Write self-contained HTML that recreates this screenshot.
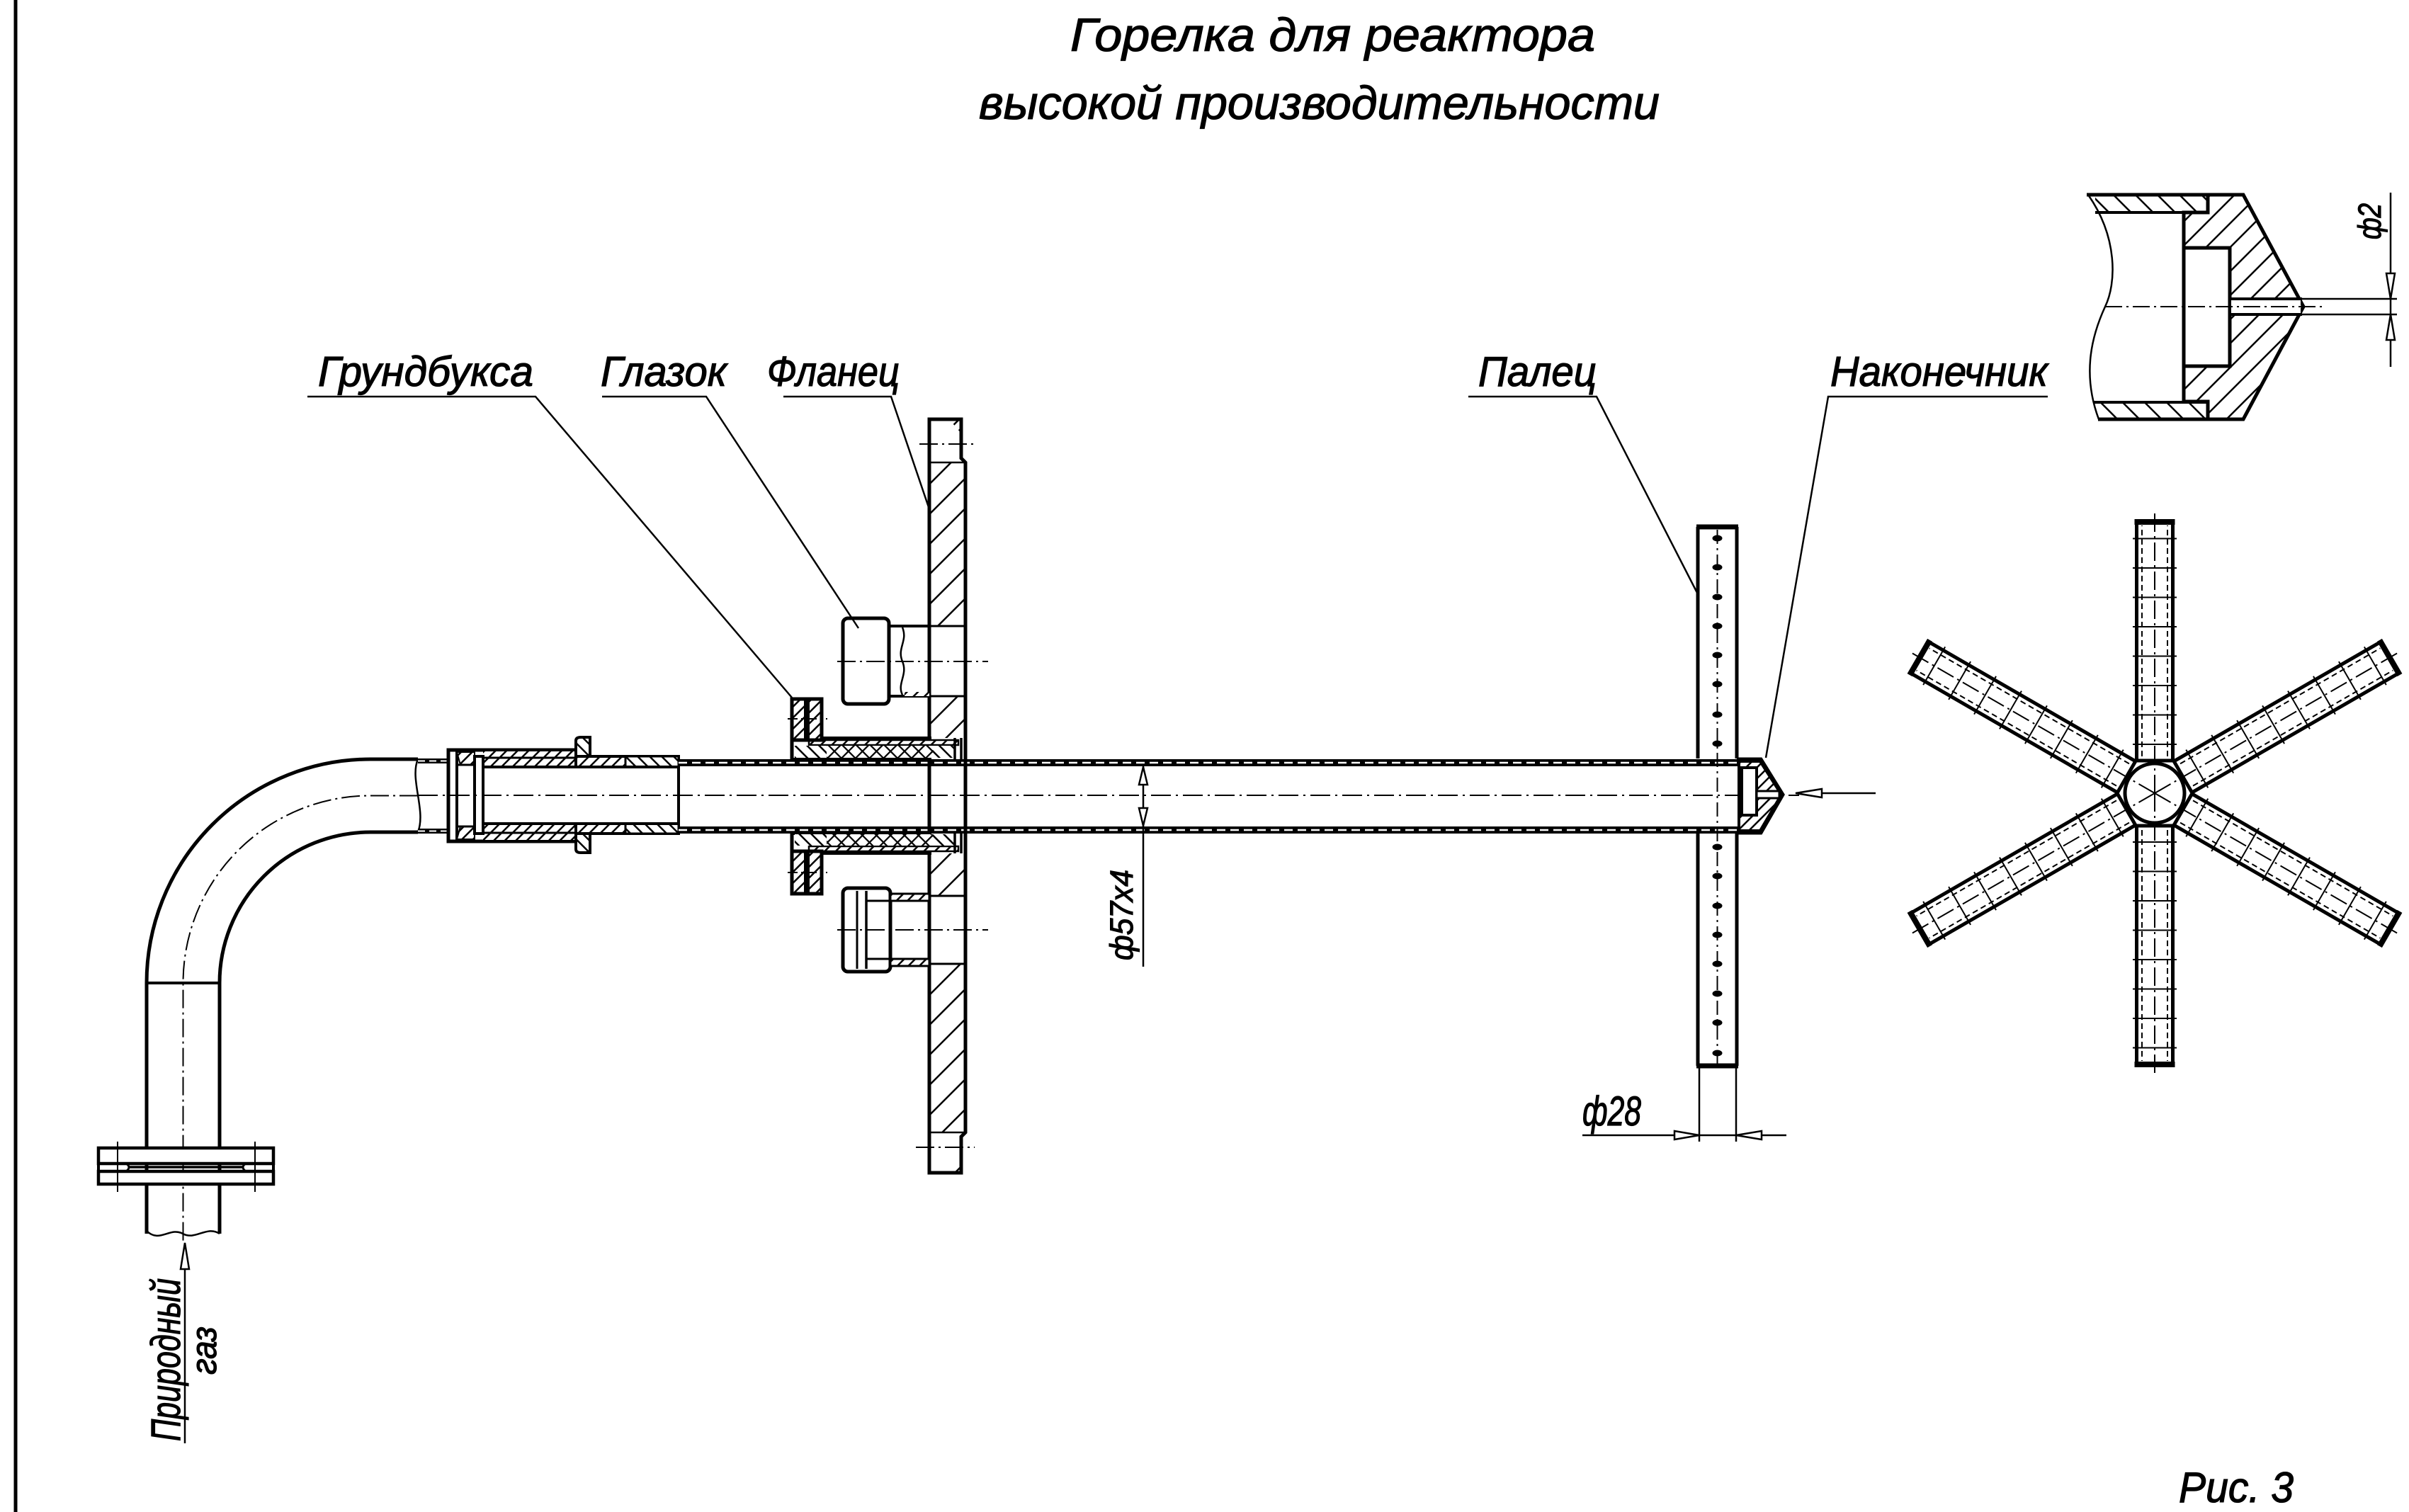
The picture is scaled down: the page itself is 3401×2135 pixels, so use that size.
<!DOCTYPE html>
<html><head><meta charset="utf-8"><style>
html,body{margin:0;padding:0;background:#fff;}
svg{display:block;}
text{font-family:"Liberation Sans","DejaVu Sans",sans-serif;font-style:italic;fill:#000;stroke:#000;stroke-width:1.2;}
</style></head><body>
<svg width="3401" height="2135" viewBox="0 0 3401 2135" xmlns="http://www.w3.org/2000/svg">
<defs>
<pattern id="hf" patternUnits="userSpaceOnUse" width="30" height="30" patternTransform="rotate(45)"><rect width="30" height="30" fill="#fff"/><line x1="1" y1="0" x2="1" y2="30" stroke="#000" stroke-width="3"/></pattern>
<pattern id="hd" patternUnits="userSpaceOnUse" width="24" height="24" patternTransform="rotate(45)"><rect width="24" height="24" fill="#fff"/><line x1="1" y1="0" x2="1" y2="24" stroke="#000" stroke-width="3"/></pattern>
<pattern id="hs" patternUnits="userSpaceOnUse" width="11" height="11" patternTransform="rotate(45)"><rect width="11" height="11" fill="#fff"/><line x1="1" y1="0" x2="1" y2="11" stroke="#000" stroke-width="3"/></pattern>
<pattern id="hb" patternUnits="userSpaceOnUse" width="12" height="12" patternTransform="rotate(-45)"><rect width="12" height="12" fill="#fff"/><line x1="1" y1="0" x2="1" y2="12" stroke="#000" stroke-width="3"/></pattern>
<pattern id="hb2" patternUnits="userSpaceOnUse" width="22" height="22" patternTransform="rotate(-45)"><rect width="22" height="22" fill="#fff"/><line x1="1" y1="0" x2="1" y2="22" stroke="#000" stroke-width="3"/></pattern>
<pattern id="hx" patternUnits="userSpaceOnUse" width="14" height="14" patternTransform="rotate(45)"><rect width="14" height="14" fill="#fff"/><line x1="1" y1="0" x2="1" y2="14" stroke="#000" stroke-width="2.5"/><line x1="0" y1="1" x2="14" y2="1" stroke="#000" stroke-width="2.5"/></pattern>
<g id="arm" stroke="#000" fill="none">
 <line x1="-25.5" y1="-46" x2="-25.5" y2="-383" stroke-width="5"/>
 <line x1="25.5" y1="-46" x2="25.5" y2="-383" stroke-width="5"/>
 <line x1="-28.5" y1="-383" x2="28.5" y2="-383" stroke-width="8"/>
 <line x1="-18" y1="-52" x2="-18" y2="-378" stroke-width="2" stroke-dasharray="8 5"/>
 <line x1="18" y1="-52" x2="18" y2="-378" stroke-width="2" stroke-dasharray="8 5"/>
 <line x1="0" y1="0" x2="0" y2="-398" stroke-width="2" stroke-dasharray="26 6 3 6"/>
 <line x1="-31" y1="-69" x2="31" y2="-69" stroke-width="2"/>
 <line x1="-31" y1="-110.5" x2="31" y2="-110.5" stroke-width="2"/>
 <line x1="-31" y1="-152" x2="31" y2="-152" stroke-width="2"/>
 <line x1="-31" y1="-193.5" x2="31" y2="-193.5" stroke-width="2"/>
 <line x1="-31" y1="-235" x2="31" y2="-235" stroke-width="2"/>
 <line x1="-31" y1="-276.5" x2="31" y2="-276.5" stroke-width="2"/>
 <line x1="-31" y1="-318" x2="31" y2="-318" stroke-width="2"/>
 <line x1="-31" y1="-359.5" x2="31" y2="-359.5" stroke-width="2"/>
</g>
</defs>

<rect width="3401" height="2135" fill="#fff"/>

<!-- left border -->
<line x1="22" y1="0" x2="22" y2="2135" stroke="#000" stroke-width="5"/>

<!-- title -->
<text x="1511" y="72" font-size="66" textLength="741" lengthAdjust="spacingAndGlyphs">Горелка для реактора</text>
<text x="1382" y="168" font-size="66" textLength="961" lengthAdjust="spacingAndGlyphs">высокой производительности</text>

<!-- ===== bend pipe ===== -->
<g stroke="#000" fill="none">
 <path d="M590 1072 L523 1072 A316 316 0 0 0 207 1388 L207 1742" stroke-width="5"/>
 <path d="M590 1175 L523 1175 A213 213 0 0 0 310 1388 L310 1742" stroke-width="5"/>
 <line x1="207" y1="1388" x2="310" y2="1388" stroke-width="4"/>
 <path d="M590 1123.5 L523 1123.5 A264.5 264.5 0 0 0 258.5 1388 L258.5 1752" stroke-width="2" stroke-dasharray="26 6 3 6"/>
 <path d="M590 1072 C578 1100 602 1145 590 1175" stroke-width="2.5"/>
 <path d="M207 1738 C225 1756 240 1732 258 1742 C276 1752 292 1730 310 1742" stroke-width="2.5"/>
 <!-- flange on vertical pipe -->
 <rect x="139" y="1621" width="247" height="22" fill="#fff" stroke-width="4.5"/>
 <rect x="139" y="1654" width="247" height="18" fill="#fff" stroke-width="4.5"/>
 <path d="M139 1643 L139 1654 M386 1643 L386 1654" stroke-width="4"/>
 <path d="M178 1643 Q186 1648 178 1654 M347 1643 Q339 1648 347 1654" stroke-width="3"/>
 <line x1="182" y1="1648" x2="343" y2="1648" stroke-width="3.5"/>
 <line x1="166" y1="1612" x2="166" y2="1683" stroke-width="2"/>
 <line x1="360" y1="1612" x2="360" y2="1683" stroke-width="2"/>
 <line x1="207" y1="1672" x2="207" y2="1740" stroke-width="5"/>
 <line x1="310" y1="1672" x2="310" y2="1742" stroke-width="5"/>
 <!-- gas inlet arrow -->
 <line x1="261" y1="1792" x2="261" y2="2038" stroke-width="2.5"/>
 <polygon points="261,1755 255,1792 267,1792" fill="#fff" stroke-width="2.5"/>
</g>
<text transform="translate(254,2035) rotate(-90)" font-size="58" textLength="230" lengthAdjust="spacingAndGlyphs">Природный</text>
<text transform="translate(305,1941) rotate(-90)" font-size="50" textLength="68" lengthAdjust="spacingAndGlyphs">газ</text>

<!-- ===== pipe walls left of coupling ===== -->
<rect x="590" y="1071" width="43" height="7" fill="#000"/>
<rect x="590" y="1170" width="43" height="7" fill="#000"/>
<line x1="590" y1="1074.5" x2="633" y2="1074.5" stroke="#fff" stroke-width="2" stroke-dasharray="10 6"/>
<line x1="590" y1="1173.5" x2="633" y2="1173.5" stroke="#fff" stroke-width="2" stroke-dasharray="10 6"/>

<!-- ===== coupling ===== -->
<g stroke="#000">
 <rect x="633" y="1059" width="180" height="129" fill="#fff" stroke-width="5"/>
 <rect x="682" y="1061" width="131" height="22" fill="url(#hs)" stroke="none"/>
 <rect x="682" y="1163" width="131" height="23" fill="url(#hs)" stroke="none"/>
 <rect x="813" y="1068" width="145" height="15" fill="url(#hs)" stroke-width="4"/>
 <rect x="813" y="1163" width="145" height="14" fill="url(#hs)" stroke-width="4"/>
 <rect x="883" y="1068" width="75" height="15" fill="url(#hb)" stroke-width="3"/>
 <rect x="883" y="1163" width="75" height="14" fill="url(#hb)" stroke-width="3"/>
 <line x1="682" y1="1070" x2="813" y2="1070" stroke-width="3"/>
 <line x1="682" y1="1176" x2="813" y2="1176" stroke-width="3"/>
 <rect x="682" y="1083" width="276" height="80" fill="#fff" stroke-width="4"/>
 <line x1="645" y1="1059" x2="645" y2="1188" stroke-width="4"/>
 <polygon points="645,1062 670,1062 670,1080 650,1080" fill="url(#hs)" stroke-width="2"/>
 <polygon points="645,1185 670,1185 670,1167 650,1167" fill="url(#hs)" stroke-width="2"/>
 <line x1="645" y1="1080" x2="682" y2="1080" stroke-width="3"/>
 <line x1="645" y1="1167" x2="682" y2="1167" stroke-width="3"/>
 <rect x="670" y="1068" width="12" height="109" fill="#fff" stroke-width="4"/>
 <path d="M813 1068 L813 1046 Q813 1041 820 1041 L833 1041 L833 1068 Z" fill="url(#hb)" stroke-width="4"/>
 <path d="M813 1177 L813 1199 Q813 1204 820 1204 L833 1204 L833 1177 Z" fill="url(#hb)" stroke-width="4"/>
</g>

<!-- ===== main tube walls ===== -->
<rect x="958" y="1072" width="1497" height="10" fill="#000"/>
<rect x="958" y="1167" width="1497" height="10" fill="#000"/>
<line x1="958" y1="1077" x2="2455" y2="1077" stroke="#fff" stroke-width="2.5" stroke-dasharray="12 7"/>
<line x1="958" y1="1172" x2="2455" y2="1172" stroke="#fff" stroke-width="2.5" stroke-dasharray="12 7"/>
<line x1="590" y1="1123" x2="2540" y2="1123" stroke="#000" stroke-width="2" stroke-dasharray="28 7 3 7"/>

<!-- ===== flange (Фланец) ===== -->
<g stroke="#000">
 <rect x="1312" y="653" width="51" height="231" fill="url(#hf)" stroke="none"/>
 <rect x="1312" y="983" width="51" height="59" fill="url(#hf)" stroke="none"/>
 <rect x="1312" y="1205" width="51" height="60" fill="url(#hf)" stroke="none"/>
 <rect x="1312" y="1361" width="51" height="238" fill="url(#hf)" stroke="none"/>
 <polygon points="1340,592 1357,592 1357,612" fill="url(#hs)" stroke="none"/>
 <polygon points="1340,1656 1357,1656 1357,1636" fill="url(#hs)" stroke="none"/>
 <path d="M1312 592 L1357 592 L1357 647 L1363 653 L1363 1599 L1357 1605 L1357 1656 L1312 1656 Z" fill="none" stroke-width="5"/>
 <line x1="1312" y1="653" x2="1363" y2="653" stroke-width="2.5"/>
 <line x1="1312" y1="1599" x2="1363" y2="1599" stroke-width="2.5"/>
 <line x1="1312" y1="884" x2="1363" y2="884" stroke-width="3"/>
 <line x1="1312" y1="983" x2="1363" y2="983" stroke-width="3"/>
 <line x1="1312" y1="1265" x2="1363" y2="1265" stroke-width="3"/>
 <line x1="1312" y1="1361" x2="1363" y2="1361" stroke-width="3"/>
 <line x1="1298" y1="627" x2="1376" y2="627" stroke-width="2" stroke-dasharray="26 6 3 6"/>
 <line x1="1293" y1="1620" x2="1376" y2="1620" stroke-width="2" stroke-dasharray="26 6 3 6"/>
</g>

<!-- ===== gland (Грундбукса) ===== -->
<g stroke="#000">
 <rect x="1118" y="1042" width="195" height="30" fill="#fff" stroke-width="4"/>
 <rect x="1142" y="1045" width="211" height="7" fill="url(#hs)" stroke-width="2.5"/>
 <rect x="1122" y="1053" width="45" height="17" fill="url(#hb)" stroke="none"/>
 <rect x="1167" y="1053" width="150" height="17" fill="url(#hx)" stroke="none"/>
 <rect x="1317" y="1053" width="31" height="17" fill="url(#hb)" stroke="none"/>
 <rect x="1118" y="1177" width="195" height="28" fill="#fff" stroke-width="4"/>
 <rect x="1142" y="1195" width="211" height="7" fill="url(#hs)" stroke-width="2.5"/>
 <rect x="1122" y="1178" width="45" height="16" fill="url(#hb)" stroke="none"/>
 <rect x="1167" y="1178" width="150" height="16" fill="url(#hx)" stroke="none"/>
 <rect x="1317" y="1178" width="31" height="16" fill="url(#hb)" stroke="none"/>
 <path d="M1348 1042 L1348 1072 M1357 1042 L1357 1072 M1348 1177 L1348 1205 M1357 1177 L1357 1205" stroke-width="3.5"/>
 <rect x="1118" y="987" width="42" height="58" fill="url(#hs)" stroke-width="5"/>
 <rect x="1135" y="987" width="8" height="58" fill="#000" stroke="none"/>
 <rect x="1118" y="1202" width="42" height="60" fill="url(#hs)" stroke-width="5"/>
 <rect x="1135" y="1202" width="8" height="60" fill="#000" stroke="none"/>
 <line x1="1112" y1="1015" x2="1168" y2="1015" stroke-width="2" stroke-dasharray="14 5 3 5"/>
 <line x1="1112" y1="1232" x2="1168" y2="1232" stroke-width="2" stroke-dasharray="14 5 3 5"/>
 <line x1="1118" y1="1042" x2="1118" y2="1072" stroke-width="5"/>
 <line x1="1118" y1="1177" x2="1118" y2="1205" stroke-width="5"/>
</g>

<!-- ===== sight glasses (Глазок) ===== -->
<g stroke="#000" fill="none">
 <rect x="1190" y="873" width="65" height="121" rx="7" fill="#fff" stroke-width="5"/>
 <line x1="1255" y1="884" x2="1312" y2="884" stroke-width="4"/>
 <line x1="1255" y1="983" x2="1312" y2="983" stroke-width="4"/>
 <rect x="1277" y="977" width="35" height="6" fill="url(#hs)" stroke="none"/>
 <path d="M1274 886 C1282 905 1266 915 1274 934 C1282 953 1266 965 1274 981" stroke-width="2.5"/>
 <line x1="1182" y1="934" x2="1395" y2="934" stroke-width="2" stroke-dasharray="26 6 3 6"/>
 <rect x="1190" y="1254" width="67" height="118" rx="7" fill="#fff" stroke-width="5"/>
 <line x1="1210" y1="1258" x2="1210" y2="1368" stroke-width="3"/>
 <line x1="1223" y1="1258" x2="1223" y2="1368" stroke-width="3.5"/>
 <rect x="1257" y="1262" width="55" height="10" fill="url(#hs)" stroke-width="3"/>
 <rect x="1257" y="1354" width="55" height="10" fill="url(#hs)" stroke-width="3"/>
 <line x1="1223" y1="1272" x2="1257" y2="1272" stroke-width="3"/>
 <line x1="1223" y1="1354" x2="1257" y2="1354" stroke-width="3"/>
 <line x1="1182" y1="1313" x2="1395" y2="1313" stroke-width="2" stroke-dasharray="26 6 3 6"/>
</g>

<!-- ===== φ57x4 dimension ===== -->
<g stroke="#000" stroke-width="2.5" fill="#fff">
 <line x1="1614" y1="1082" x2="1614" y2="1365"/>
 <polygon points="1614,1083 1608,1108 1620,1108"/>
 <polygon points="1614,1166 1608,1141 1620,1141"/>
</g>
<text transform="translate(1599,1356) rotate(-90)" font-size="45" textLength="128" lengthAdjust="spacingAndGlyphs">ф57x4</text>

<!-- ===== Палец ===== -->
<g stroke="#000" fill="none">
 <line x1="2397" y1="744" x2="2397" y2="1071" stroke-width="5"/>
 <line x1="2452" y1="744" x2="2452" y2="1071" stroke-width="5"/>
 <line x1="2395" y1="744" x2="2454" y2="744" stroke-width="7"/>
 <line x1="2397" y1="1175" x2="2397" y2="1505" stroke-width="5"/>
 <line x1="2452" y1="1175" x2="2452" y2="1505" stroke-width="5"/>
 <line x1="2395" y1="1505" x2="2454" y2="1505" stroke-width="7"/>
 <line x1="2424.5" y1="748" x2="2424.5" y2="1502" stroke-width="2" stroke-dasharray="20 6 3 6"/>
</g>
<g fill="#000">
 <ellipse cx="2424.5" cy="760" rx="7" ry="4.5"/><ellipse cx="2424.5" cy="801" rx="7" ry="4.5"/>
 <ellipse cx="2424.5" cy="843" rx="7" ry="4.5"/><ellipse cx="2424.5" cy="884" rx="7" ry="4.5"/>
 <ellipse cx="2424.5" cy="925" rx="7" ry="4.5"/><ellipse cx="2424.5" cy="966" rx="7" ry="4.5"/>
 <ellipse cx="2424.5" cy="1009" rx="7" ry="4.5"/><ellipse cx="2424.5" cy="1050" rx="7" ry="4.5"/>
 <ellipse cx="2424.5" cy="1196" rx="7" ry="4.5"/><ellipse cx="2424.5" cy="1237" rx="7" ry="4.5"/>
 <ellipse cx="2424.5" cy="1279" rx="7" ry="4.5"/><ellipse cx="2424.5" cy="1320" rx="7" ry="4.5"/>
 <ellipse cx="2424.5" cy="1361" rx="7" ry="4.5"/><ellipse cx="2424.5" cy="1403" rx="7" ry="4.5"/>
 <ellipse cx="2424.5" cy="1444" rx="7" ry="4.5"/><ellipse cx="2424.5" cy="1487" rx="7" ry="4.5"/>
</g>

<!-- ===== tip (Наконечник) ===== -->
<g stroke="#000">
 <path d="M2455 1075 L2485 1075 L2515 1122 L2485 1173 L2455 1173 Z" fill="url(#hs)" stroke-width="4"/>
 <rect x="2459" y="1084" width="21" height="67" fill="#fff" stroke-width="4"/>
 <rect x="2480" y="1117" width="32" height="10" fill="#fff" stroke-width="3"/>
 <path d="M2452 1072 L2486 1072 L2517 1122 L2486 1176 L2452 1176" fill="none" stroke-width="5"/>
 <line x1="2455" y1="1080" x2="2455" y2="1168" stroke-width="4"/>
 <line x1="2572" y1="1120" x2="2648" y2="1120" stroke-width="2.5"/>
 <polygon points="2535,1120 2572,1114 2572,1126" fill="#fff" stroke-width="2.5"/>
</g>

<!-- ===== φ28 dimension ===== -->
<g stroke="#000" stroke-width="2.5" fill="#fff">
 <line x1="2399" y1="1508" x2="2399" y2="1612"/>
 <line x1="2451" y1="1508" x2="2451" y2="1612"/>
 <line x1="2234" y1="1603" x2="2522" y2="1603"/>
 <polygon points="2399,1603 2364,1597 2364,1609"/>
 <polygon points="2451,1603 2487,1597 2487,1609"/>
</g>
<text x="2234" y="1589" font-size="58" textLength="83" lengthAdjust="spacingAndGlyphs">ф28</text>

<!-- ===== labels & leaders ===== -->
<g stroke="#000" stroke-width="2.5" fill="none">
 <polyline points="434,560 756,560 1118,985"/>
 <polyline points="850,560 997,560 1212,887"/>
 <polyline points="1106,560 1258,560 1312,719"/>
 <polyline points="2073,560 2254,560 2397,839"/>
 <polyline points="2891,560 2581,560 2493,1070"/>
</g>
<text x="449" y="545" font-size="59" textLength="304" lengthAdjust="spacingAndGlyphs">Грундбукса</text>
<text x="848" y="545" font-size="59" textLength="178" lengthAdjust="spacingAndGlyphs">Глазок</text>
<text x="1083" y="545" font-size="59" textLength="187" lengthAdjust="spacingAndGlyphs">Фланец</text>
<text x="2087" y="545" font-size="59" textLength="167" lengthAdjust="spacingAndGlyphs">Палец</text>
<text x="2584" y="545" font-size="59" textLength="307" lengthAdjust="spacingAndGlyphs">Наконечник</text>

<!-- ===== star view ===== -->
<g transform="translate(3042,1120)">
 <use href="#arm"/>
 <use href="#arm" transform="rotate(60)"/>
 <use href="#arm" transform="rotate(120)"/>
 <use href="#arm" transform="rotate(180)"/>
 <use href="#arm" transform="rotate(240)"/>
 <use href="#arm" transform="rotate(300)"/>
 <polygon points="53.1,0 26.6,46 -26.6,46 -53.1,0 -26.6,-46 26.6,-46" fill="none" stroke="#000" stroke-width="5"/>
 <circle r="42" fill="none" stroke="#000" stroke-width="5"/>
</g>

<!-- ===== detail top-right ===== -->
<g stroke="#000">
 <rect x="2958" y="277" width="159" height="23" fill="url(#hb2)" stroke="none"/>
 <rect x="2960" y="568" width="157" height="23" fill="url(#hb2)" stroke="none"/>
 <path d="M3117 275 L3167 275 L3252 433 L3167 592 L3117 592 L3117 567 L3083 567 L3083 300 L3117 300 Z" fill="url(#hd)" stroke-width="5"/>
 <rect x="3083" y="350" width="65" height="167" fill="#fff" stroke-width="5"/>
 <path d="M3148 422 L3250 422 M3148 444 L3250 444" stroke-width="4"/>
 <rect x="3150" y="424" width="98" height="18" fill="#fff" stroke="none"/>
 <line x1="2946" y1="275" x2="3167" y2="275" stroke-width="5"/>
 <line x1="2958" y1="300" x2="3117" y2="300" stroke-width="4"/>
 <line x1="2955" y1="568" x2="3117" y2="568" stroke-width="4"/>
 <line x1="2962" y1="592" x2="3167" y2="592" stroke-width="5"/>
 <line x1="3117" y1="275" x2="3117" y2="300" stroke-width="4"/>
 <line x1="3117" y1="567" x2="3117" y2="592" stroke-width="4"/>
 <path d="M2948 275 C2990 335 2988 400 2972 433 C2955 470 2938 525 2963 592" fill="none" stroke-width="2.5"/>
 <line x1="2972" y1="433" x2="3280" y2="433" stroke-width="2" stroke-dasharray="24 6 3 6"/>
 <line x1="3250" y1="422" x2="3384" y2="422" stroke-width="2.5"/>
 <line x1="3250" y1="444" x2="3384" y2="444" stroke-width="2.5"/>
 <line x1="3375" y1="272" x2="3375" y2="518" stroke-width="2.5"/>
 <polygon points="3375,422 3369,386 3381,386" fill="#fff" stroke-width="2.5"/>
 <polygon points="3375,444 3369,480 3381,480" fill="#fff" stroke-width="2.5"/>
</g>
<text transform="translate(3361,338) rotate(-90)" font-size="45" textLength="51" lengthAdjust="spacingAndGlyphs">ф2</text>

<!-- figure number -->
<text x="3076" y="2121" font-size="60" textLength="162" lengthAdjust="spacingAndGlyphs">Рис. 3</text>
</svg>
</body></html>
